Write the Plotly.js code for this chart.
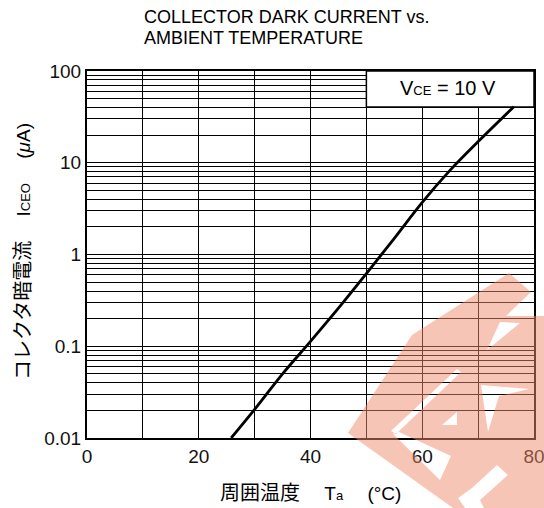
<!DOCTYPE html>
<html>
<head>
<meta charset="utf-8">
<script src="https://cdn.plot.ly/plotly-3.0.1.min.js"></script>
<style>html,body{margin:0;padding:0;background:#fff;}#chart{width:544px;height:508px;}</style>
</head>
<body>
<div id="chart"></div>
<script>
// Data
const temperature = [25.8, 30, 35, 40, 45, 50, 55, 60, 65, 70, 76.4];
const darkCurrent = [0.01, 0.0205, 0.05, 0.113, 0.26, 0.62, 1.5, 3.7, 8.3, 17, 40.8];
const xTickVals = [0, 20, 40, 60, 80];
const xTickText = ['0', '20', '40', '60', '80'];
const yTickVals = [0.01, 0.1, 1, 10, 100];
const yTickText = ['0.01', '0.1', '1', '10', '100'];

const W = 544, H = 508;
const M = {l: 87, r: 10, t: 71, b: 70};
const PW = W - M.l - M.r, PH = H - M.t - M.b;
function px(x) { return ((x - M.l) / PW).toFixed(4); }
function py(y) { return ((H - M.b - y) / PH).toFixed(4); }
function poly(pts) {
  return 'M' + pts.map(p => px(p[0]) + ',' + py(p[1])).join(' L') + ' Z';
}

// Watermark (decorative) outline and cut-outs
const wmOuter = [[509,273],[531,292],[506,316],[544,316],[544,508],[453,508],[348,433],[412,335]];
const wmHoles = [
  [[500,322],[520,323],[487,350]],
  [[391,431],[457,369],[461,372],[396,434]],
  [[393,434],[399,432],[451,456],[440,480]],
  [[457,412],[457,425],[442,425]],
  [[481,385],[529,389],[499,396],[488,432]],
  [[497,465],[508,475],[480,500],[484,508],[465,508],[458,498],[472,488]]
];
const wmPath = poly(wmOuter) + ' ' + wmHoles.map(poly).join(' ');

const font = 'Liberation Sans, Arial, sans-serif';
const J = (s) => '<span style="font-family:Noto Sans CJK JP;font-size:20px">' + s + '</span>';

const trace = {
  x: temperature, y: darkCurrent, type: 'scatter', mode: 'lines',
  line: {color: '#000', width: 2.8, shape: 'spline', smoothing: 1},
  hoverinfo: 'skip', cliponaxis: true
};

const layout = {
  width: W, height: H,
  margin: M,
  paper_bgcolor: '#fff', plot_bgcolor: '#fff',
  showlegend: false,
  font: {family: font, color: '#000', size: 18},
  xaxis: {
    range: [0, 80], tickvals: xTickVals, ticktext: xTickText,
    showgrid: true, gridcolor: '#000', gridwidth: 1,
    minor: {dtick: 10, showgrid: true, gridcolor: '#000', gridwidth: 1, ticks: ''},
    showline: true, linecolor: '#000', linewidth: 2, mirror: true,
    ticks: '', zeroline: false, ticklabeloverflow: 'allow',
    tickfont: {family: font, size: 19, color: '#111'}
  },
  yaxis: {
    type: 'log', range: [-2, 2], tickvals: yTickVals, ticktext: yTickText,
    showgrid: true, gridcolor: '#000', gridwidth: 1,
    minor: {dtick: 'D1', showgrid: true, gridcolor: '#000', gridwidth: 1, ticks: ''},
    showline: true, linecolor: '#000', linewidth: 2, mirror: true,
    ticks: '', zeroline: false, ticklabeloverflow: 'allow',
    tickfont: {family: font, size: 19, color: '#111'}
  },
  shapes: [
    {type: 'rect', xref: 'x', yref: 'y', x0: 50, x1: 80, y0: 40.5, y1: 100,
     fillcolor: '#fff', line: {color: '#000', width: 1.5}, layer: 'between'},
    {type: 'path', xref: 'paper', yref: 'paper', path: wmPath, fillrule: 'evenodd',
     fillcolor: 'rgb(240,140,110)', opacity: 0.5, line: {width: 0}, layer: 'above'}
  ],
  annotations: [
    {xref: 'paper', yref: 'paper', x: px(142), y: py(17), xanchor: 'left', yanchor: 'middle', align: 'left',
     showarrow: false, text: 'COLLECTOR DARK CURRENT vs.',
     font: {family: font, size: 18, color: '#000'}},
    {xref: 'paper', yref: 'paper', x: px(142), y: py(38), xanchor: 'left', yanchor: 'middle', align: 'left',
     showarrow: false, text: 'AMBIENT TEMPERATURE',
     font: {family: font, size: 18, color: '#000'}},
    {xref: 'x', yref: 'paper', x: 64.6, y: py(88), xanchor: 'center', yanchor: 'middle', showarrow: false,
     text: 'V<span style="font-size:13px">CE</span> = 10 V', font: {family: font, size: 20, color: '#000'}},
    {xref: 'paper', yref: 'paper', x: px(21), y: py(251), xanchor: 'center', yanchor: 'middle', showarrow: false,
     textangle: -90,
     text: J('コレクタ暗電流') + '\u3000 I<span style="font-size:13px">CEO</span>\u3000 (<i>μ</i>A)',
     font: {family: font, size: 19, color: '#000'}},
    {xref: 'paper', yref: 'paper', x: px(311), y: py(492), xanchor: 'center', yanchor: 'middle', showarrow: false,
     text: J('周囲温度') + '\u3000 T<span style="font-size:13px">a</span>\u3000 (°C)',
     font: {family: font, size: 19, color: '#000'}}
  ]
};

Plotly.newPlot('chart', [trace], layout, {displayModeBar: false, staticPlot: true});
</script>
</body>
</html>
